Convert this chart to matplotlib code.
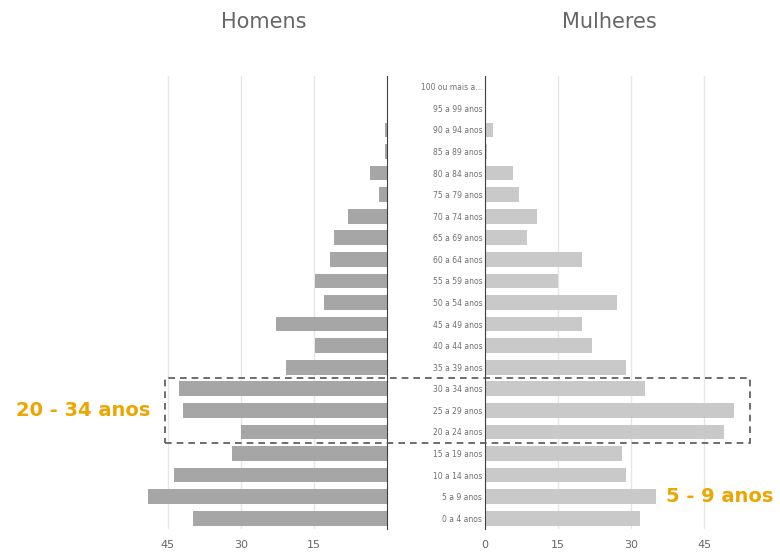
import matplotlib
matplotlib.use("Agg")
import matplotlib.pyplot as plt
from matplotlib.patches import Rectangle

# faixas etárias, de baixo para cima
faixas = ['0 a 4 anos', '5 a 9 anos', '10 a 14 anos', '15 a 19 anos',
          '20 a 24 anos', '25 a 29 anos', '30 a 34 anos', '35 a 39 anos',
          '40 a 44 anos', '45 a 49 anos', '50 a 54 anos', '55 a 59 anos',
          '60 a 64 anos', '65 a 69 anos', '70 a 74 anos', '75 a 79 anos',
          '80 a 84 anos', '85 a 89 anos', '90 a 94 anos', '95 a 99 anos',
          '100 ou mais a...']
homens = [39.8, 49.0, 43.7, 31.8, 30.0, 41.9, 42.7, 20.7, 14.8, 22.8,
          12.9, 14.8, 11.7, 10.9, 8.0, 1.6, 3.5, 0.4, 0.4, 0.0, 0.0]
mulheres = [31.9, 35.1, 29.0, 28.1, 49.1, 51.1, 32.9, 29.0, 22.0, 19.9,
            27.1, 15.0, 20.0, 8.7, 10.7, 7.0, 5.8, 0.5, 1.6, 0.0, 0.0]
ticks = [0, 15, 30, 45]

W, H = 780, 557
fig = plt.figure(figsize=(W / 100, H / 100), dpi=100)

y0, y1 = 1 - 529 / H, 1 - 76 / H
axL = fig.add_axes([143.5 / W, y0, 243.5 / W, y1 - y0])
axR = fig.add_axes([485 / W, y0, 263 / W, y1 - y0])

pos = range(len(faixas))
axL.barh(pos, homens, height=0.68, color='#a6a6a6', zorder=2)
axR.barh(pos, mulheres, height=0.68, color='#c9c9c9', zorder=2)

axL.set_xlim(50, 0)
axR.set_xlim(0, 54)
for ax in (axL, axR):
    ax.set_ylim(-0.5, len(faixas) - 0.5)
    for s in ax.spines.values():
        s.set_visible(False)
    ax.grid(axis='x', color='#e6e6e6', linewidth=1, zorder=0)
    ax.tick_params(axis='x', length=0, labelsize=8, labelcolor='#666666', pad=8)

axL.set_xticks(ticks[1:])
axR.set_xticks(ticks)
axL.set_yticks([])
axL.spines['right'].set_visible(True)
axL.spines['right'].set_color('#404040')
axR.spines['left'].set_visible(True)
axR.spines['left'].set_color('#404040')
axR.set_yticks(list(pos))
axR.set_yticklabels(faixas)
axR.tick_params(axis='y', length=0, labelsize=5.5, labelcolor='#707070', pad=2)

fig.text(264 / W, 1 - 22 / H, 'Homens', ha='center', va='center',
         fontsize=15, color='#666666')
fig.text(609 / W, 1 - 22 / H, 'Mulheres', ha='center', va='center',
         fontsize=15, color='#666666')

laranja = '#eda500'
fig.text(83 / W, 1 - 410 / H, '20 - 34 anos', ha='center', va='center',
         fontsize=14, fontweight='bold', color=laranja)
fig.text(720 / W, 1 - 497 / H, '5 - 9 anos', ha='center', va='center',
         fontsize=14, fontweight='bold', color=laranja)

# caixa tracejada em volta das faixas de 20 a 34 anos
inv = fig.transFigure.inverted()
xa, ya = inv.transform(axL.transData.transform((45.6, 3.5)))
xb, yb = inv.transform(axR.transData.transform((54.4, 6.5)))
fig.patches.append(Rectangle((xa, ya), xb - xa, yb - ya, fill=False,
                             edgecolor='#555555', linestyle=(0, (4, 3)),
                             linewidth=1.2, transform=fig.transFigure,
                             zorder=5))

fig.savefig('out.png', dpi=100)
